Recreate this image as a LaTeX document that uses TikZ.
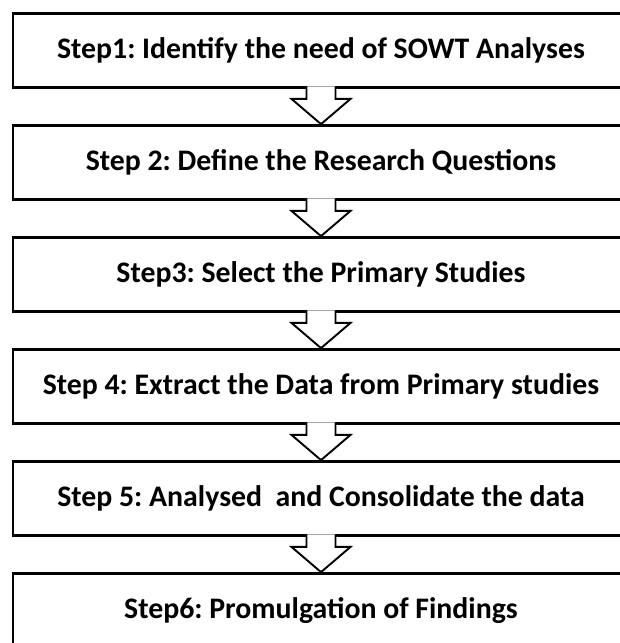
\documentclass[tikz,border=0pt]{standalone}
\usepackage{fontspec}
\setmainfont{Carlito}
\usetikzlibrary{calc}
\frenchspacing

\begin{document}
\begin{tikzpicture}[x=1pt,y=-1pt,
    stepbox/.style={rectangle, draw=black, line width=2.8pt,
        minimum width=616pt, minimum height=74pt, inner sep=0pt,
        font=\fontsize{29.8}{34}\selectfont\bfseries},
    hollowarrow/.style={draw=black, line width=1.9pt, fill=white, line join=miter}]

        \useasboundingbox (0,0) rectangle (619,643);

        \node[stepbox] (s1) at (321,50.5)  {Step1: Identify the need of SOWT Analyses};
        \node[stepbox] (s2) at (321,162.5) {Step 2: Define the Research Questions};
        \node[stepbox] (s3) at (321,274.5) {Step3: Select the Primary Studies};
        \node[stepbox] (s4) at (321,386.5) {Step 4: Extract the Data from Primary studies};
        \node[stepbox] (s5) at (321,498.5) {Step 5: Analysed~ and Consolidate the data};
        \node[stepbox] (s6) at (321,610.5) {Step6: Promulgation of Findings};

        % hollow down arrows, open at the top so they join the box above
        \path[hollowarrow] ($(s1.south)+(-14.5,-2.5)$) -- ++(0,12.5) -- ++(-15,0) -- (s2.north) -- ($(s1.south)+(29.5,10)$) -- ++(-15,0) -- ++(0,-12.5);
        \path[hollowarrow] ($(s2.south)+(-14.5,-2.5)$) -- ++(0,12.5) -- ++(-15,0) -- (s3.north) -- ($(s2.south)+(29.5,10)$) -- ++(-15,0) -- ++(0,-12.5);
        \path[hollowarrow] ($(s3.south)+(-14.5,-2.5)$) -- ++(0,12.5) -- ++(-15,0) -- (s4.north) -- ($(s3.south)+(29.5,10)$) -- ++(-15,0) -- ++(0,-12.5);
        \path[hollowarrow] ($(s4.south)+(-14.5,-2.5)$) -- ++(0,12.5) -- ++(-15,0) -- (s5.north) -- ($(s4.south)+(29.5,10)$) -- ++(-15,0) -- ++(0,-12.5);
        \path[hollowarrow] ($(s5.south)+(-14.5,-2.5)$) -- ++(0,12.5) -- ++(-15,0) -- (s6.north) -- ($(s5.south)+(29.5,10)$) -- ++(-15,0) -- ++(0,-12.5);

\end{tikzpicture}
\end{document}
